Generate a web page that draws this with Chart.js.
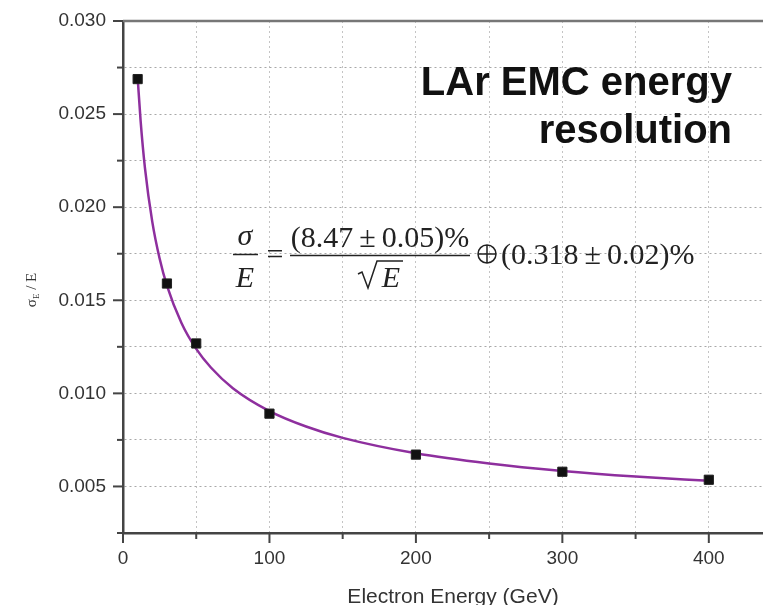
<!DOCTYPE html>
<html>
<head>
<meta charset="utf-8">
<title>LAr EMC energy resolution</title>
<script src="https://cdn.jsdelivr.net/npm/chart.js@4.4.1/dist/chart.umd.min.js"></script>
<style>
    body { margin: 0; background: #fff; }
    canvas { display: block; }
</style>
</head>
<body>
<canvas id="resChart" width="763" height="605"></canvas>
<script>
// Measured points: electron energy (GeV) vs sigma_E / E
const energies = [10, 30, 50, 100, 200, 300, 400];
const resolution = [0.02688, 0.0159, 0.01268, 0.00891, 0.00671, 0.00579, 0.00536];

// Fitted curve, sampled along the energy range
const fitEnergies = [10, 12, 15, 20, 25, 30, 40, 50, 60, 75, 100, 125, 150, 200, 250, 300, 350, 400];
const fitResolution = [0.02697, 0.02466, 0.02210, 0.01921, 0.01724, 0.01579, 0.01377, 0.01239,
    0.01139, 0.01028, 0.00905, 0.00822, 0.00761, 0.00678, 0.00623, 0.00583, 0.00553, 0.00530];

const xTickValues = [0, 100, 200, 300, 400];
const yTickValues = [0.005, 0.010, 0.015, 0.020, 0.025, 0.030];

const axisColor = '#444';
const textColor = '#333';

// Tick marks (major/minor), top frame line and all the free text
const decorPlugin = {
    id: 'decor',
    afterDraw(chart) {
        const ctx = chart.ctx;
        const area = chart.chartArea;
        const xs = chart.scales.x;
        const ys = chart.scales.y;
        ctx.save();

        // top frame
        ctx.strokeStyle = '#777';
        ctx.lineWidth = 2.5;
        ctx.beginPath();
        ctx.moveTo(area.left, area.top);
        ctx.lineTo(area.right, area.top);
        ctx.stroke();

        // tick marks
        ctx.strokeStyle = axisColor;
        ctx.lineWidth = 2;
        ys.ticks.forEach(t => {
            const y = ys.getPixelForValue(t.value);
            const major = yTickValues.some(v => Math.abs(v - t.value) < 1e-6);
            ctx.beginPath();
            ctx.moveTo(area.left, y);
            ctx.lineTo(area.left - (major ? 10 : 6), y);
            ctx.stroke();
        });
        xs.ticks.forEach(t => {
            const x = xs.getPixelForValue(t.value);
            const major = xTickValues.includes(t.value);
            ctx.beginPath();
            ctx.moveTo(x, area.bottom);
            ctx.lineTo(x, area.bottom + (major ? 10 : 6));
            ctx.stroke();
        });

        // x axis title
        ctx.fillStyle = textColor;
        ctx.font = '21px "Liberation Sans", Arial, sans-serif';
        ctx.textAlign = 'center';
        ctx.textBaseline = 'alphabetic';
        ctx.fillText('Electron Energy (GeV)', 453, 603);

        // y axis title: sigma_E / E
        ctx.translate(31, 290);
        ctx.rotate(-Math.PI / 2);
        ctx.textAlign = 'left';
        const big = '15px "Liberation Serif"';
        const small = '9px "Liberation Serif"';
        ctx.font = big;
        const wSig = ctx.measureText('\u03c3').width;
        const wRest = ctx.measureText(' / E').width;
        ctx.font = small;
        const wSub = ctx.measureText('E').width;
        let x0 = -(wSig + wSub + wRest) / 2;
        ctx.font = big;
        ctx.fillText('\u03c3', x0, 5);
        ctx.font = small;
        ctx.fillText('E', x0 + wSig, 8);
        ctx.font = big;
        ctx.fillText(' / E', x0 + wSig + wSub, 5);
        ctx.setTransform(1, 0, 0, 1, 0, 0);

        // heading
        ctx.fillStyle = '#111';
        ctx.font = 'bold 40px "Liberation Sans", Arial, sans-serif';
        ctx.textAlign = 'right';
        ctx.fillText('LAr EMC energy', 732, 95);
        ctx.fillText('resolution', 732, 143);

        // resolution formula
        ctx.fillStyle = '#222';
        ctx.strokeStyle = '#222';
        ctx.textAlign = 'center';
        ctx.font = 'italic 30px "Liberation Serif", serif';
        ctx.fillText('\u03c3', 245, 245);
        ctx.fillText('E', 245, 287);
        ctx.lineWidth = 1.5;
        ctx.beginPath();
        ctx.moveTo(233, 254.5);
        ctx.lineTo(258, 254.5);
        ctx.stroke();

        ctx.font = '30px "Liberation Serif", serif';
        ctx.fillText('=', 275, 264);
        ctx.fillText('(8.47\u2009\u00b1\u20090.05)%', 380, 247);
        ctx.beginPath();
        ctx.moveTo(290, 255.5);
        ctx.lineTo(470, 255.5);
        ctx.stroke();

        // square root over E
        ctx.lineWidth = 1.5;
        ctx.beginPath();
        ctx.moveTo(358, 274);
        ctx.lineTo(362, 272);
        ctx.lineTo(368, 288);
        ctx.lineTo(377, 261);
        ctx.lineTo(403, 261);
        ctx.stroke();
        ctx.font = 'italic 30px "Liberation Serif", serif';
        ctx.fillText('E', 391, 287);

        // direct-sum sign
        ctx.beginPath();
        ctx.arc(487, 254, 9, 0, Math.PI * 2);
        ctx.moveTo(478, 254);
        ctx.lineTo(496, 254);
        ctx.moveTo(487, 245);
        ctx.lineTo(487, 263);
        ctx.stroke();
        ctx.textAlign = 'left';
        ctx.font = '30px "Liberation Serif", serif';
        ctx.fillText('(0.318\u2009\u00b1\u20090.02)%', 501, 264);

        ctx.restore();
    }
};

const ctx = document.getElementById('resChart').getContext('2d');

new Chart(ctx, {
    type: 'scatter',
    data: {
        datasets: [{
            label: 'data',
            data: energies.map((e, i) => ({x: e, y: resolution[i]})),
            showLine: false,
            pointStyle: 'rect',
            pointRadius: 6.5,
            pointBackgroundColor: '#111',
            pointBorderColor: '#222',
            pointBorderWidth: 1
        }, {
            label: 'fit',
            data: fitEnergies.map((e, i) => ({x: e, y: fitResolution[i]})),
            showLine: true,
            pointRadius: 0,
            borderColor: '#8e2f9e',
            borderWidth: 2.5,
            cubicInterpolationMode: 'monotone'
        }]
    },
    options: {
        responsive: false,
        animation: false,
        devicePixelRatio: 1,
        layout: {
            autoPadding: false,
            padding: {top: 21, right: 0, bottom: 0, left: 0}
        },
        plugins: {
            legend: {display: false},
            tooltip: {enabled: false}
        },
        scales: {
            x: {
                type: 'linear',
                min: 0,
                max: 437,
                afterFit: function(scale) {
                    scale.height = 72;
                    scale.paddingLeft = 0;
                    scale.paddingRight = 0;
                },
                grid: {
                    color: '#c4c4c4',
                    lineWidth: 1,
                    drawTicks: false
                },
                border: {color: axisColor, width: 2.5, dash: [2, 3]},
                ticks: {
                    stepSize: 50,
                    includeBounds: false,
                    autoSkip: false,
                    maxRotation: 0,
                    padding: 14,
                    color: textColor,
                    font: {family: '"Liberation Sans", Arial, sans-serif', size: 19},
                    callback: function(value) {
                        return xTickValues.includes(value) ? String(value) : '';
                    }
                }
            },
            y: {
                type: 'linear',
                min: 0.0025,
                max: 0.030,
                afterFit: function(scale) {
                    scale.width = 123;
                    scale.paddingTop = 0;
                    scale.paddingBottom = 0;
                },
                grid: {
                    color: '#a8a8a8',
                    lineWidth: 1,
                    drawTicks: false
                },
                border: {color: axisColor, width: 2.5, dash: [2, 3]},
                ticks: {
                    stepSize: 0.0025,
                    includeBounds: false,
                    autoSkip: false,
                    padding: 17,
                    color: textColor,
                    font: {family: '"Liberation Sans", Arial, sans-serif', size: 19},
                    callback: function(value) {
                        const hit = yTickValues.find(v => Math.abs(v - value) < 1e-6);
                        return hit ? hit.toFixed(3) : '';
                    }
                }
            }
        }
    },
    plugins: [decorPlugin]
});
</script>
</body>
</html>
